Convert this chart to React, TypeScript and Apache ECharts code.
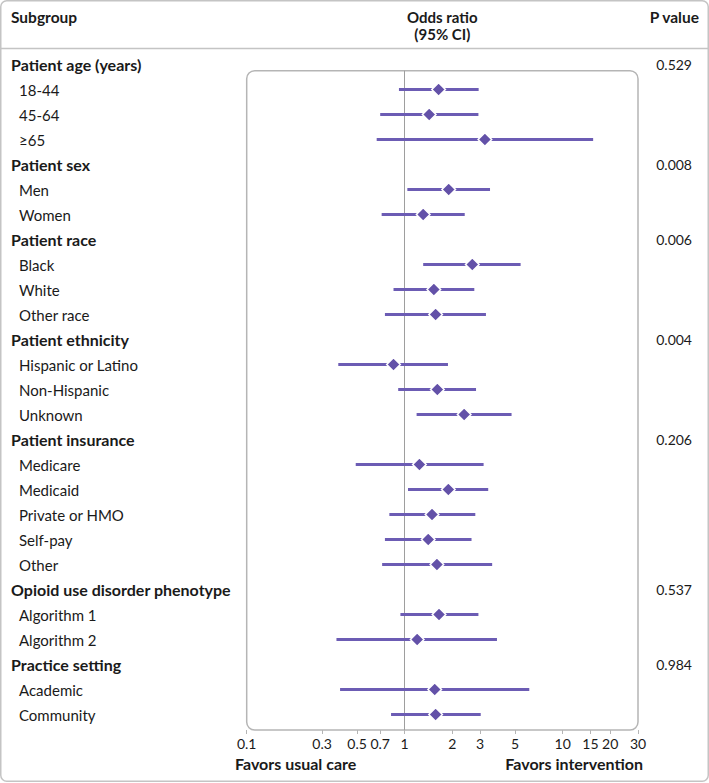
import React, { useEffect, useRef } from "react";
import * as echarts from "echarts";

const groupNames = [
  "Patient age (years)",
  "Patient sex",
  "Patient race",
  "Patient ethnicity",
  "Patient insurance",
  "Opioid use disorder phenotype",
  "Practice setting",
];
const groupPValues = ["0.529", "0.008", "0.006", "0.004", "0.206", "0.537", "0.984"];

const subgroupNames = [
  "18-44", "45-64", "≥65",
  "Men", "Women",
  "Black", "White", "Other race",
  "Hispanic or Latino", "Non-Hispanic", "Unknown",
  "Medicare", "Medicaid", "Private or HMO", "Self-pay", "Other",
  "Algorithm 1", "Algorithm 2",
  "Academic", "Community",
];
const subgroupGroup = [0, 0, 0, 1, 1, 2, 2, 2, 3, 3, 3, 4, 4, 4, 4, 4, 5, 5, 6, 6];
const oddsRatio = [1.64, 1.43, 3.22, 1.9, 1.31, 2.68, 1.53, 1.57, 0.85, 1.61, 2.38, 1.24, 1.89, 1.49, 1.41, 1.6, 1.65, 1.2, 1.55, 1.57];
const ciLower = [0.92, 0.7, 0.665, 1.04, 0.715, 1.31, 0.85, 0.75, 0.38, 0.91, 1.19, 0.49, 1.05, 0.8, 0.75, 0.72, 0.94, 0.37, 0.39, 0.82];
const ciUpper = [2.94, 2.93, 15.6, 3.47, 2.4, 5.42, 2.76, 3.27, 1.88, 2.83, 4.75, 3.16, 3.38, 2.8, 2.65, 3.58, 2.93, 3.84, 6.15, 3.03];

const tickValues = [0.1, 0.3, 0.5, 0.7, 1, 2, 3, 5, 10, 15, 20, 30];
const tickLabels = ["0.1", "0.3", "0.5", "0.7", "1", "2", "3", "5", "10", "15", "20", "30"];

const FONT = "Lato";
const TEXT = "#1a1a1a";
const LINE_COLOR = "#6c5cb4";
const DIAMOND_COLOR = "#6351a8";

export default function App() {
  const ref = useRef<HTMLDivElement>(null);
  useEffect(() => {
    const chart = echarts.init(ref.current!, null, { renderer: "svg" });

    const labelRows: any[] = [];
    const ciRows: number[][] = [];
    let row = 0;
    groupNames.forEach((g, gi) => {
      labelRows.push({ row, text: g, header: true, p: groupPValues[gi] });
      row++;
      subgroupNames.forEach((s, si) => {
        if (subgroupGroup[si] !== gi) return;
        labelRows.push({ row, text: s, header: false, p: "" });
        ciRows.push([Math.log10(ciLower[si]), Math.log10(ciUpper[si]), Math.log10(oddsRatio[si]), row]);
        row++;
      });
    });

    const xMin = Math.log10(tickValues[0]);
    const xMax = Math.log10(tickValues[tickValues.length - 1]);
    const tickLogs = tickValues.map((v) => Math.log10(v));

    const gridLeft = 246.7;
    const gridTop = 70.7;
    const gridRight = 638;
    const gridBottom = 730;
    const centerX = (gridLeft + gridRight) / 2;

    chart.setOption({
      animation: false,
      textStyle: { fontFamily: FONT },
      grid: {
        left: gridLeft,
        top: gridTop,
        width: gridRight - gridLeft,
        height: gridBottom - gridTop,
        containLabel: false,
      },
      xAxis: {
        type: "value",
        min: xMin,
        max: xMax,
        axisLine: { show: false },
        splitLine: { show: false },
        axisTick: {
          show: true,
          customValues: tickLogs,
          length: 4,
          lineStyle: { color: "#b5b5b5", width: 1 },
        },
        axisLabel: {
          customValues: tickLogs,
          margin: 6,
          fontSize: 14,
          color: TEXT,
          fontFamily: FONT,
          formatter: (v: number) => {
            const i = tickLogs.findIndex((t) => Math.abs(t - v) < 1e-6);
            return i >= 0 ? tickLabels[i] : "";
          },
        },
      },
      yAxis: {
        type: "value",
        inverse: true,
        min: (gridTop - 64.5) / 25,
        max: (gridBottom - 64.5) / 25,
        show: false,
      },
      graphic: [
        {
          type: "rect",
          shape: { x: 0.75, y: 0.75, width: 707.5, height: 780.5, r: 6 },
          style: { fill: "none", stroke: "#c4c4c4", lineWidth: 1.5 },
          silent: true,
          z: -10,
        },
        {
          type: "line",
          shape: { x1: 0, y1: 48.5, x2: 709, y2: 48.5 },
          style: { stroke: "#c4c4c4", lineWidth: 1.5 },
          silent: true,
        },
        {
          type: "rect",
          shape: { x: gridLeft, y: gridTop, width: gridRight - gridLeft, height: gridBottom - gridTop, r: 8 },
          style: { fill: "none", stroke: "#b5b5b5", lineWidth: 1.5 },
          silent: true,
          z: -5,
        },
        {
          type: "text",
          style: { x: 11, y: 17, text: "Subgroup", font: `bold 15.5px ${FONT}`, fill: TEXT, verticalAlign: "middle", align: "left" },
        },
        {
          type: "text",
          style: { x: centerX, y: 16.5, text: "Odds ratio", font: `bold 15px ${FONT}`, lineHeight: 15, fill: TEXT, verticalAlign: "middle", align: "center" },
        },
        {
          type: "text",
          style: { x: centerX, y: 33.5, text: "(95% CI)", font: `bold 15px ${FONT}`, lineHeight: 15, fill: TEXT, verticalAlign: "middle", align: "center" },
        },
        {
          type: "text",
          style: { x: 699, y: 17, text: "P value", font: `bold 15.5px ${FONT}`, fill: TEXT, verticalAlign: "middle", align: "right" },
        },
        {
          type: "text",
          style: { x: 235, y: 763, text: "Favors usual care", font: `bold 16px ${FONT}`, fill: TEXT, verticalAlign: "middle", align: "left" },
        },
        {
          type: "text",
          style: { x: 643, y: 763, text: "Favors intervention", font: `bold 16px ${FONT}`, fill: TEXT, verticalAlign: "middle", align: "right" },
        },
      ],
      series: [
        {
          type: "custom",
          name: "labels",
          silent: true,
          data: labelRows.map((r) => [xMin, r.row]),
          encode: { x: 0, y: 1 },
          renderItem: (params: any, api: any) => {
            const r = labelRows[params.dataIndex];
            const pt = api.coord([xMin, r.row]);
            const children: any[] = [
              {
                type: "text",
                style: {
                  x: r.header ? 11 : 19,
                  y: pt[1],
                  text: r.text,
                  font: r.header ? `bold 16px ${FONT}` : `15px ${FONT}`,
                  fill: TEXT,
                  align: "left",
                  verticalAlign: "middle",
                },
              },
            ];
            if (r.p) {
              children.push({
                type: "text",
                style: {
                  x: 692,
                  y: pt[1],
                  text: r.p,
                  font: `14px ${FONT}`,
                  fill: TEXT,
                  align: "right",
                  verticalAlign: "middle",
                },
              });
            }
            return { type: "group", children };
          },
        },
        {
          type: "custom",
          name: "ci",
          silent: true,
          data: ciRows,
          encode: { x: [0, 1, 2], y: 3 },
          renderItem: (params: any, api: any) => {
            const r = api.value(3);
            const lo = api.coord([api.value(0), r]);
            const hi = api.coord([api.value(1), r]);
            const c = api.coord([api.value(2), r]);
            const d = 6.8;
            return {
              type: "group",
              children: [
                {
                  type: "line",
                  shape: { x1: lo[0], y1: lo[1], x2: hi[0], y2: hi[1] },
                  style: { stroke: LINE_COLOR, lineWidth: 2.8 },
                },
                {
                  type: "polygon",
                  shape: { points: [[c[0], c[1] - d], [c[0] + d, c[1]], [c[0], c[1] + d], [c[0] - d, c[1]]] },
                  style: { fill: DIAMOND_COLOR, stroke: "#ffffff", lineWidth: 1.5 },
                },
              ],
            };
          },
          markLine: {
            silent: true,
            symbol: "none",
            label: { show: false },
            lineStyle: { color: "#9e9e9e", width: 1, type: "solid" },
            data: [{ xAxis: 0 }],
            z: 0,
          },
          z: 3,
        },
      ],
    });

    return () => {
      chart.dispose();
    };
  }, []);

  return (
    <div
      ref={ref}
      style={{ position: "absolute", left: 0, top: 0, width: 709, height: 783, background: "#ffffff" }}
    />
  );
}
